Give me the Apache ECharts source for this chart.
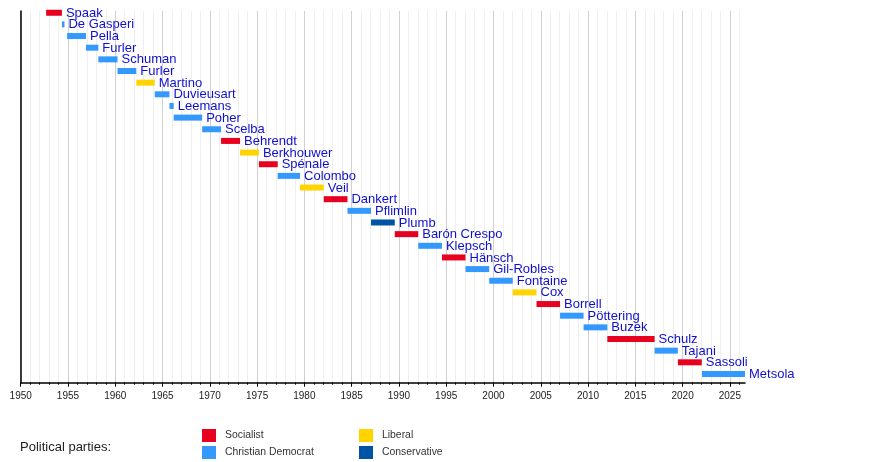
<!DOCTYPE html>
<html>
<head>
<meta charset="utf-8">
<script src="https://cdn.jsdelivr.net/npm/echarts@6/dist/echarts.min.js"></script>
<style>
  html, body { margin: 0; padding: 0; background: #fff; }
  #chart { width: 875px; height: 462px; }
</style>
</head>
<body>
<div id="chart"></div>
<script>
// presidents of the European Parliament, top to bottom
const names = ['Spaak', 'De Gasperi', 'Pella', 'Furler', 'Schuman', 'Furler', 'Martino', 'Duvieusart',
  'Leemans', 'Poher', 'Scelba', 'Behrendt', 'Berkhouwer', 'Spénale', 'Colombo', 'Veil', 'Dankert',
  'Pflimlin', 'Plumb', 'Barón Crespo', 'Klepsch', 'Hänsch', 'Gil-Robles', 'Fontaine', 'Cox', 'Borrell',
  'Pöttering', 'Buzek', 'Schulz', 'Tajani', 'Sassoli', 'Metsola'];
const starts = [1952.69, 1954.36, 1954.91, 1956.91, 1958.21, 1960.24, 1962.23, 1964.18,
  1965.73, 1966.18, 1969.19, 1971.19, 1973.2, 1975.19, 1977.18, 1979.54, 1982.05,
  1984.56, 1987.05, 1989.56, 1992.04, 1994.55, 1997.04, 1999.55, 2002.04, 2004.55,
  2007.04, 2009.53, 2012.04, 2017.04, 2019.5, 2022.05];
const ends = [1954.36, 1954.63, 1956.91, 1958.21, 1960.24, 1962.23, 1964.18, 1965.73,
  1966.18, 1969.19, 1971.19, 1973.2, 1975.19, 1977.18, 1979.54, 1982.05, 1984.56,
  1987.05, 1989.56, 1992.04, 1994.55, 1997.04, 1999.55, 2002.04, 2004.55, 2007.04,
  2009.53, 2012.04, 2017.04, 2019.5, 2022.03, 2026.6];
const parties = ['Socialist', 'Christian Democrat', 'Christian Democrat', 'Christian Democrat',
  'Christian Democrat', 'Christian Democrat', 'Liberal', 'Christian Democrat', 'Christian Democrat',
  'Christian Democrat', 'Christian Democrat', 'Socialist', 'Liberal', 'Socialist', 'Christian Democrat',
  'Liberal', 'Socialist', 'Christian Democrat', 'Conservative', 'Socialist', 'Christian Democrat',
  'Socialist', 'Christian Democrat', 'Christian Democrat', 'Liberal', 'Socialist', 'Christian Democrat',
  'Christian Democrat', 'Socialist', 'Christian Democrat', 'Socialist', 'Christian Democrat'];

const partyNames = ['Socialist', 'Christian Democrat', 'Liberal', 'Conservative'];
const partyColors = ['#e8001f', '#3399ff', '#ffd400', '#0054a5'];

const majorYears = [1950, 1955, 1960, 1965, 1970, 1975, 1980, 1985, 1990, 1995, 2000, 2005, 2010, 2015, 2020, 2025];
const minorYears = [];
for (let y = 1950; y <= 2026; y++) minorYears.push(y);

const xMin = 1950, xMax = 2026.6;
const font = 'Liberation Sans, Arial, sans-serif';

const chart = echarts.init(document.getElementById('chart'));

function renderBar(params, api) {
  const row = api.value(0);
  const a = api.coord([api.value(1), row]);
  const b = api.coord([api.value(2), row]);
  const h = 6;
  return {
    type: 'group',
    children: [
      { type: 'rect', shape: { x: a[0], y: a[1] - h / 2, width: b[0] - a[0], height: h },
        style: { fill: api.visual('color') } },
      { type: 'text', x: b[0] + 4, y: a[1] + 0.5,
        style: { text: names[row], fill: '#1010cc', font: '13px ' + font, textVerticalAlign: 'middle' } }
    ]
  };
}

const series = partyNames.map((p, k) => ({
  name: p,
  type: 'custom',
  xAxisIndex: 0,
  renderItem: renderBar,
  itemStyle: { color: partyColors[k] },
  encode: { x: [1, 2], y: 0 },
  clip: false,
  silent: true,
  data: names.map((n, i) => [i, starts[i], ends[i]]).filter((d, i) => parties[i] === p)
}));

const legendText = { fontSize: 10.4, color: '#333', fontFamily: font, padding: [0, 0, 0, 4] };

const option = {
  animation: false,
  color: partyColors,
  title: {
    text: 'Political parties:', left: 20, top: 441, padding: 0,
    textStyle: { fontSize: 13, fontWeight: 'normal', color: '#222', fontFamily: font }
  },
  legend: [
    { data: ['Socialist', 'Christian Democrat'], orient: 'vertical', left: 202, top: 429, padding: 0,
      itemWidth: 14, itemHeight: 13, itemGap: 4, icon: 'rect', selectedMode: false, textStyle: legendText },
    { data: ['Liberal', 'Conservative'], orient: 'vertical', left: 359, top: 429, padding: 0,
      itemWidth: 14, itemHeight: 13, itemGap: 4, icon: 'rect', selectedMode: false, textStyle: legendText }
  ],
  grid: { left: 20.7, right: 130, top: 11, bottom: 79.3, containLabel: false },
  xAxis: [
    { type: 'value', min: xMin, max: xMax, interval: 1,
      axisLine: { show: true, onZero: false, lineStyle: { color: '#000', width: 1.5 } },
      axisTick: { show: true, length: 2, customValues: minorYears, lineStyle: { color: '#000' } },
      axisLabel: { show: false },
      splitLine: { show: true, lineStyle: { color: '#eeeeee', width: 1 } } },
    { type: 'value', min: xMin, max: xMax, interval: 5, position: 'bottom',
      axisLine: { show: false, onZero: false },
      axisTick: { show: true, length: 4, customValues: majorYears, lineStyle: { color: '#000' } },
      axisLabel: { show: true, customValues: majorYears, margin: 9, fontSize: 10, color: '#222',
        fontFamily: font, formatter: v => String(v) },
      splitLine: { show: true, lineStyle: { color: '#d0d0d0', width: 1 } } }
  ],
  yAxis: {
    type: 'value', inverse: true, min: -0.15, max: 31.75,
    axisLine: { show: true, onZero: false, lineStyle: { color: '#000', width: 1.5 } },
    axisTick: { show: false }, axisLabel: { show: false }, splitLine: { show: false }
  },
  series: series
};

chart.setOption(option);
</script>
</body>
</html>
